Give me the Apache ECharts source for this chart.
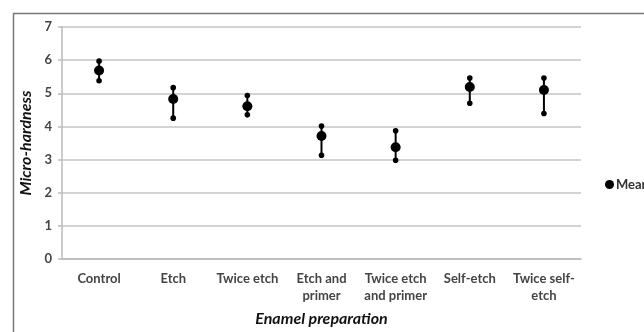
<!DOCTYPE html>
<html><head><meta charset="utf-8">
<script src="https://cdn.jsdelivr.net/npm/echarts@6/dist/echarts.min.js"></script>
<style>html,body{margin:0;padding:0;background:#fff}#c{width:644px;height:332px}</style>
</head><body><div id="c"></div>
<script>
var categories = ['Control','Etch','Twice etch','Etch and\nprimer','Twice etch\nand primer','Self-etch','Twice self-\netch'];
var meanValues = [5.69, 4.83, 4.61, 3.71, 3.37, 5.19, 5.10];
var upperValues = [5.97, 5.17, 4.93, 4.01, 3.87, 5.46, 5.46];
var lowerValues = [5.38, 4.25, 4.35, 3.13, 2.98, 4.70, 4.39];
var yTicks = [0,1,2,3,4,5,6,7];

var FONT = 'Lato, "Liberation Sans", sans-serif';
var chart = echarts.init(document.getElementById('c'));
var errData = categories.map(function(c,i){ return [i, lowerValues[i], upperValues[i]]; });
chart.setOption({
  animation:false,
  graphic:[{type:'rect', shape:{x:13.5,y:13.5,width:800,height:600}, style:{fill:'none', stroke:'#777', lineWidth:1.5}, z:-10}],
  grid:{left:62, right:63, top:27, bottom:71},
  legend:{data:['Mean'], left:600, top:173, icon:'circle', itemWidth:9, itemHeight:9, itemGap:4,
    textStyle:{fontFamily:FONT, fontSize:13, fontWeight:'bold', color:'#333', padding:[0,0,0,-3]}},
  xAxis:{type:'category', data:categories, boundaryGap:true,
    axisLine:{lineStyle:{color:'#bbb', width:1.5}}, axisTick:{show:false},
    axisLabel:{interval:0, margin:11, fontFamily:FONT, fontSize:13, fontWeight:'bold', color:'#444', lineHeight:17},
    name:'Enamel preparation', nameLocation:'middle', nameGap:52,
    nameTextStyle:{fontFamily:FONT, fontSize:16, fontWeight:'bold', fontStyle:'italic', color:'#111'}},
  yAxis:{type:'value', min:yTicks[0], max:yTicks[yTicks.length-1], interval:1,
    axisLine:{show:true, lineStyle:{color:'#bbb', width:1.5}},
    axisTick:{show:true, length:4, lineStyle:{color:'#bbb', width:1.5}},
    splitLine:{lineStyle:{color:'#c4c4c4', width:1.5}},
    axisLabel:{margin:10, fontFamily:FONT, fontSize:13, fontWeight:'bold', color:'#444'},
    name:'Micro-hardness', nameLocation:'middle', nameGap:25,
    nameTextStyle:{fontFamily:FONT, fontSize:16, fontWeight:'bold', fontStyle:'italic', color:'#111'}},
  series:[
    {type:'custom', name:'err', data:errData, z:3,
      renderItem:function(params, api){
        var lo = api.coord([api.value(0), api.value(1)]);
        var hi = api.coord([api.value(0), api.value(2)]);
        return {type:'group', children:[
          {type:'line', shape:{x1:lo[0],y1:lo[1],x2:hi[0],y2:hi[1]}, style:{stroke:'#000', lineWidth:2}},
          {type:'circle', shape:{cx:lo[0],cy:lo[1],r:2.8}, style:{fill:'#000'}},
          {type:'circle', shape:{cx:hi[0],cy:hi[1],r:2.8}, style:{fill:'#000'}}
        ]};
      }},
    {type:'scatter', name:'Mean', data:meanValues, symbol:'circle', symbolSize:10, z:4,
      itemStyle:{color:'#000', opacity:1}}
  ]
});
</script></body></html>
